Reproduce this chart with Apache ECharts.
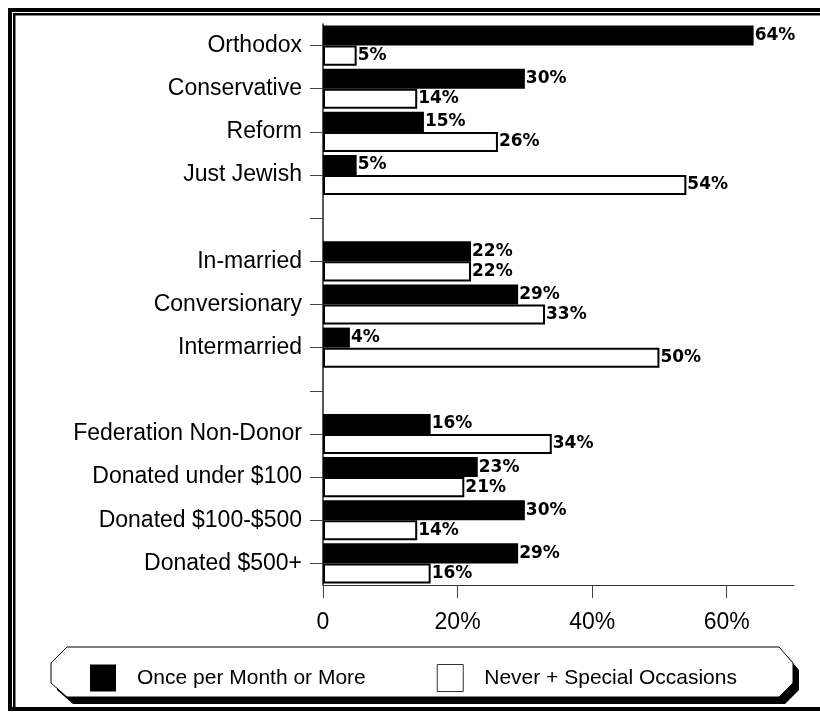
<!DOCTYPE html>
<html>
<head>
<meta charset="utf-8">
<style>
  html, body { margin: 0; padding: 0; background: #fff; }
  #chart { width: 820px; height: 713px; }
</style>
<script src="https://cdn.jsdelivr.net/npm/echarts@6/dist/echarts.min.js"></script>
</head>
<body>
<div id="chart"></div>
<script>
// Synagogue attendance by denomination, marriage type and giving level
const categories = [
  'Orthodox', 'Conservative', 'Reform', 'Just Jewish', '',
  'In-married', 'Conversionary', 'Intermarried', ' ',
  'Federation Non-Donor', 'Donated under $100', 'Donated $100-$500', 'Donated $500+'
];
const seriesNames = ['Once per Month or More', 'Never + Special Occasions'];
const oftenValues = [64, 30, 15, 5, null, 22, 29, 4, null, 16, 23, 30, 29];
const rarelyValues = [5, 14, 26, 54, null, 22, 33, 50, null, 34, 21, 14, 16];
const xTicks = [0, 20, 40, 60];

const chart = echarts.init(document.getElementById('chart'), null, { renderer: 'canvas' });

const valueLabel = {
  show: true,
  position: 'right',
  distance: 1,
  formatter: p => p.value + '%',
  fontFamily: 'DejaVu Sans',
  fontWeight: 'bold',
  fontSize: 17,
  color: '#000'
};

// legend frame: octagon with a drop shadow
const box = [[67,647],[779,647],[793,663],[793,683],[779,697],[67,697],[51,683],[51,663]];
const shadow = box.map(p => [p[0] + 6, p[1] + 7]);

chart.setOption({
  animation: false,
  backgroundColor: '#fff',
  grid: { left: 323, top: 24, right: 26, bottom: 128, containLabel: false },
  xAxis: {
    type: 'value',
    min: 0,
    max: 70,
    interval: 20,
    splitLine: { show: false },
    axisLine: { show: true, lineStyle: { color: '#333', width: 1 } },
    axisTick: { show: true, length: 13, lineStyle: { color: '#444', width: 1 },
      customValues: xTicks },
    axisLabel: {
      margin: 26,
      fontFamily: 'Liberation Sans, Arial',
      fontSize: 23,
      color: '#000',
      customValues: xTicks,
      formatter: v => v === 0 ? '0' : v + '%'
    }
  },
  yAxis: {
    type: 'category',
    data: categories,
    inverse: true,
    axisLine: { show: true, lineStyle: { color: '#222', width: 1.5 } },
    axisTick: { show: true, alignWithLabel: true, length: 13, lineStyle: { color: '#444', width: 1 } },
    axisLabel: {
      margin: 21,
      fontFamily: 'Liberation Sans, Arial',
      fontSize: 23,
      color: '#000',
      interval: 0
    }
  },
  legend: {
    left: 85,
    top: 659,
    itemWidth: 26,
    itemHeight: 27,
    itemGap: 71,
    icon: 'rect',
    selectedMode: false,
    textStyle: {
      fontFamily: 'Liberation Sans, Arial',
      fontSize: 21,
      color: '#000',
      padding: [0, 0, 0, 16]
    },
    data: [
      { name: seriesNames[0], itemStyle: { color: '#000', borderWidth: 0 } },
      { name: seriesNames[1], itemStyle: { color: '#fff', borderColor: '#333', borderWidth: 1 } }
    ]
  },
  graphic: [
    // double frame
    { type: 'rect', shape: { x: 8, y: 8, width: 812, height: 4 }, style: { fill: '#000' }, silent: true },
    { type: 'rect', shape: { x: 8, y: 8, width: 4, height: 703 }, style: { fill: '#000' }, silent: true },
    { type: 'rect', shape: { x: 13, y: 13, width: 807, height: 2.5 }, style: { fill: '#000' }, silent: true },
    { type: 'rect', shape: { x: 13, y: 13, width: 2.5, height: 696 }, style: { fill: '#000' }, silent: true },
    { type: 'rect', shape: { x: 8, y: 707, width: 812, height: 4 }, style: { fill: '#000' }, silent: true },
    // legend box
    { type: 'polygon', shape: { points: shadow }, style: { fill: '#000' }, silent: true },
    { type: 'polygon', shape: { points: box }, style: { fill: '#fff', stroke: '#000', lineWidth: 1 }, silent: true }
  ],
  series: [
    {
      name: seriesNames[0],
      type: 'bar',
      data: oftenValues,
      barCategoryGap: '7%',
      barGap: '0%',
      itemStyle: { color: '#000', borderColor: '#000', borderWidth: 0 },
      label: valueLabel
    },
    {
      name: seriesNames[1],
      type: 'bar',
      data: rarelyValues,
      barCategoryGap: '7%',
      barGap: '0%',
      itemStyle: { color: '#fff', borderColor: '#000', borderWidth: 2 },
      label: valueLabel
    }
  ]
});
</script>
</body>
</html>
